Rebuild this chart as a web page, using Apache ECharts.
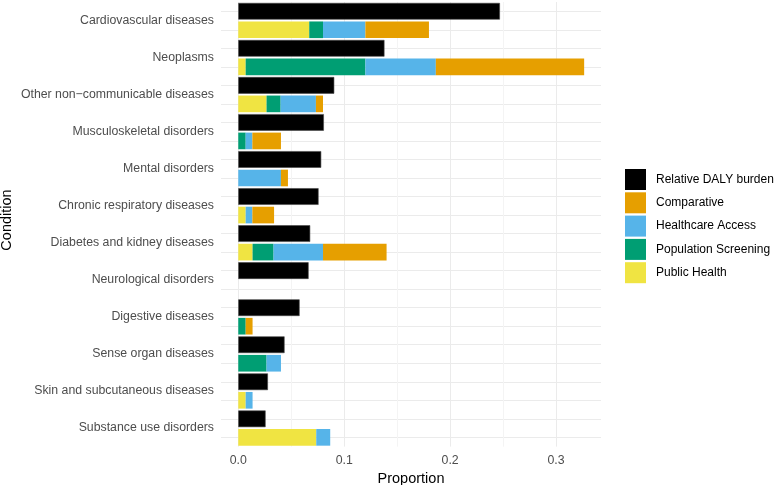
<!DOCTYPE html>
<html>
<head>
<meta charset="utf-8">
<script src="https://cdn.jsdelivr.net/npm/echarts@6/dist/echarts.min.js"></script>
<style>html,body{margin:0;padding:0;background:#fff}#c{width:776px;height:485px}</style>
</head>
<body>
<div id="c"></div>
<script>
var conditions = ['Cardiovascular diseases','Neoplasms','Other non\u2212communicable diseases','Musculoskeletal disorders','Mental disorders','Chronic respiratory diseases','Diabetes and kidney diseases','Neurological disorders','Digestive diseases','Sense organ diseases','Skin and subcutaneous diseases','Substance use disorders'];
var dalyBurden   = [0.247, 0.138, 0.0906, 0.0808, 0.0783, 0.0758, 0.0679, 0.0664, 0.0579, 0.0437, 0.028, 0.0258];
var publicHealth = [0.067, 0.007, 0.0267, 0, 0, 0.007, 0.0135, 0, 0, 0, 0.007, 0.0736];
var popScreening = [0.013, 0.113, 0.0133, 0.007, 0, 0, 0.0198, 0, 0.007, 0.0267, 0, 0];
var healthcare   = [0.040, 0.0665, 0.0333, 0.0063, 0.0403, 0.0063, 0.0467, 0, 0, 0.0136, 0.0065, 0.0132];
var comparative  = [0.060, 0.140, 0.0067, 0.027, 0.0066, 0.0205, 0.060, 0, 0.0065, 0, 0, 0];
var xTicks = ['0.0','0.1','0.2','0.3'];

var rows = [];
conditions.forEach(function(c, k){ rows.push('d' + k); rows.push('a' + k); });
var labelSlots = [];
for (var j = 0; j <= conditions.length * 4; j++) labelSlots.push('s' + j);

function onDaly(arr){ var out=[]; arr.forEach(function(v){ out.push(v>0?v:'-'); out.push('-'); }); return out; }
function onAction(arr){ var out=[]; arr.forEach(function(v){ out.push('-'); out.push(v>0?v:'-'); }); return out; }

var chart = echarts.init(document.getElementById('c'), null, {renderer:'canvas'});
var font = 'Liberation Sans, Arial, sans-serif';
var gridTop = 2, gridBottom = 485 - 446.6;
var major = '#EBEBEB', minor = '#F4F4F4';

function actionSeries(name, color, arr){
  return {name:name, type:'bar', stack:'act', yAxisIndex:0, data:onAction(arr), barWidth:'90%', barGap:'-100%',
    itemStyle:{color:color}, emphasis:{disabled:true}};
}

chart.setOption({
  animation:false,
  backgroundColor:'#fff',
  textStyle:{fontFamily:font},
  grid:{left:221, right:175, top:gridTop, bottom:gridBottom, containLabel:false, outerBoundsMode:'none'},
  legend:{
    orient:'vertical', left:625, top:169, padding:0, itemWidth:21, itemHeight:21, itemGap:2.3,
    icon:'rect', selectedMode:false,
    itemStyle:{borderWidth:0},
    data:['Relative DALY burden','Comparative','Healthcare Access','Population Screening','Public Health'],
    textStyle:{fontSize:12, color:'#000', fontFamily:font, padding:[0,0,0,5]}
  },
  graphic:[{type:'text', x:7, y:220, rotation:Math.PI/2,
    style:{text:'Condition', fontSize:14.5, fill:'#000', fontFamily:font, align:'center', verticalAlign:'middle'}}],
  xAxis:{
    type:'value', min:-0.0163, max:0.3424, minInterval:0.05, maxInterval:0.05, splitNumber:7,
    axisLine:{show:false}, axisTick:{show:false},
    axisLabel:{color:'#4D4D4D', fontSize:12.3, margin:8, fontFamily:font,
      formatter:function(v){ var t=v*10; if (Math.abs(t-Math.round(t))<1e-6 && Math.round(t)>=0) return xTicks[Math.round(t)] || ''; return ''; }},
    splitLine:{show:true, lineStyle:{width:1, color:['rgba(0,0,0,0)', major, minor, major, minor, major, minor, major, 'rgba(0,0,0,0)']}},
    name:'Proportion', nameLocation:'middle', nameGap:23,
    nameTextStyle:{fontSize:14.5, color:'#000', fontFamily:font}
  },
  yAxis:[
    {type:'category', data:rows, inverse:true, boundaryGap:true,
     axisLine:{show:false}, axisTick:{show:false}, axisLabel:{show:false}, splitLine:{show:false}},
    {type:'category', data:labelSlots, inverse:true, boundaryGap:false, position:'left',
     axisLine:{show:false}, axisTick:{show:false},
     axisLabel:{show:true, interval:function(i){ return i % 4 === 2; }, color:'#4D4D4D', fontSize:12.3, margin:7, fontFamily:font,
       formatter:function(v, i){ return (i % 4 === 2) ? conditions[(i-2)/4] : ''; }},
     splitLine:{show:true, interval:function(i){ return i % 2 === 1; }, lineStyle:{color:major, width:1}}}
  ],
  series:[
    {name:'Relative DALY burden', type:'bar', yAxisIndex:0, data:onDaly(dalyBurden), barWidth:'90%', barGap:'-100%',
     itemStyle:{color:'#000000', borderColor:'#444', borderWidth:0.6}, emphasis:{disabled:true}},
    actionSeries('Public Health', '#F0E442', publicHealth),
    actionSeries('Population Screening', '#009E73', popScreening),
    actionSeries('Healthcare Access', '#56B4E9', healthcare),
    actionSeries('Comparative', '#E69F00', comparative)
  ]
});
</script>
</body>
</html>
